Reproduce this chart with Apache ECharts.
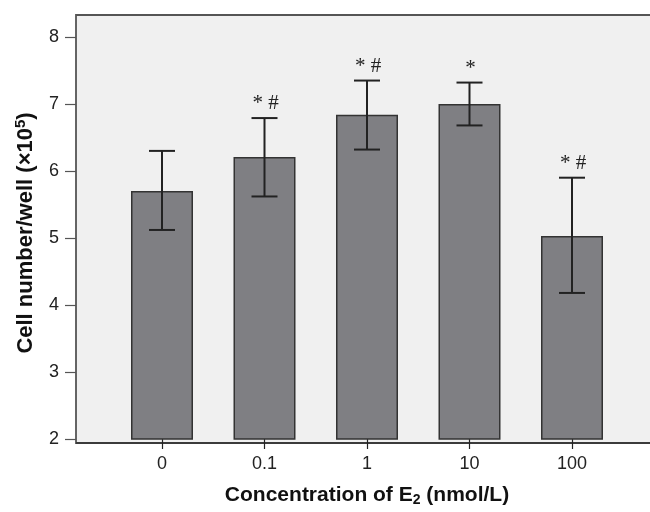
<!DOCTYPE html>
<html>
<head>
<meta charset="utf-8">
<script src="https://cdn.jsdelivr.net/npm/echarts@6/dist/echarts.min.js"></script>
<style>
  html, body { margin: 0; padding: 0; background: #fff; }
  #chart { width: 650px; height: 512px; }
</style>
</head>
<body>
<div id="chart"></div>
<script>
"use strict";

const categories = ["0", "0.1", "1", "10", "100"];
const means = [5.70, 6.21, 6.84, 7.00, 5.03];
const errUpper = [6.30, 6.79, 7.35, 7.32, 5.90];
const errLower = [5.12, 5.62, 6.32, 6.68, 4.18];
const marks = ["", "* #", "* #", "*", "* #"];
const yTicks = [2, 3, 4, 5, 6, 7, 8];

const font = "'Liberation Sans', Arial, sans-serif";

const errData = categories.map((c, i) => [i, errLower[i], errUpper[i], marks[i]]);

const chart = echarts.init(document.getElementById("chart"), null, { width: 650, height: 512 });

chart.setOption({
  animation: false,
  grid: { left: 110.75, right: 26.75, top: 37, bottom: 69 },
  graphic: [
    {
      type: "rect",
      z: -10,
      shape: { x: 76, y: 15, width: 590, height: 428 },
      style: { fill: "#f0f0f0", stroke: "#555", lineWidth: 1.8 },
    },
    {
      type: "line",
      z: 10,
      shape: { x1: 76, y1: 443, x2: 650, y2: 443 },
      style: { stroke: "#222", lineWidth: 1.2 },
    },
  ],
  xAxis: {
    type: "category",
    data: categories,
    axisLine: { show: false },
    axisTick: { show: true, alignWithLabel: true, length: 10, lineStyle: { color: "#222", width: 1.2 } },
    axisLabel: { fontSize: 18, color: "#222", fontFamily: font, margin: 16 },
    name: "Concentration of E{sub|2} (nmol/L)",
    nameLocation: "middle",
    nameGap: 44,
    nameTextStyle: {
      fontSize: 21, fontWeight: "bold", color: "#111", fontFamily: font,
      rich: { sub: { fontSize: 14, fontWeight: "bold", color: "#111", fontFamily: font, padding: [10, 0, 0, 0] } },
    },
  },
  yAxis: {
    type: "value",
    min: 2,
    max: 8,
    interval: 1,
    offset: 34.75,
    splitLine: { show: false },
    axisLine: { show: false },
    axisTick: { show: true, length: 11, customValues: yTicks, lineStyle: { color: "#555", width: 1.2 } },
    axisLabel: { fontSize: 18, color: "#222", fontFamily: font, margin: 17, customValues: yTicks },
    name: "Cell number/well (×10{sup|5})",
    nameLocation: "middle",
    nameGap: 38,
    nameRotate: 90,
    nameTextStyle: {
      fontSize: 22, fontWeight: "bold", color: "#111", fontFamily: font,
      padding: [0, 0, 0, 10],
      rich: { sup: { fontSize: 15, fontWeight: "bold", color: "#111", fontFamily: font, padding: [0, 0, 10, 0] } },
    },
  },
  series: [
    {
      type: "bar",
      data: means,
      barWidth: 62,
      itemStyle: { color: "#7f7f83", borderColor: "#333", borderWidth: 1.5 },
    },
    {
      type: "custom",
      data: errData,
      z: 5,
      renderItem: (params, api) => {
        const i = api.value(0);
        const lo = api.coord([i, api.value(1)]);
        const hi = api.coord([i, api.value(2)]);
        const x = lo[0];
        const half = 13;
        const st = { stroke: "#222", lineWidth: 2 };
        return {
          type: "group",
          children: [
            { type: "line", shape: { x1: x, y1: lo[1], x2: x, y2: hi[1] }, style: st },
            { type: "line", shape: { x1: x - half, y1: hi[1], x2: x + half, y2: hi[1] }, style: st },
            { type: "line", shape: { x1: x - half, y1: lo[1], x2: x + half, y2: lo[1] }, style: st },
            {
              type: "text",
              style: {
                x: x + 1,
                y: hi[1] - 4,
                text: marks[i],
                fill: "#222",
                font: "21px 'Liberation Serif', 'Times New Roman', serif",
                align: "center",
                verticalAlign: "bottom",
              },
            },
          ],
        };
      },
    },
  ],
});
</script>
</body>
</html>
